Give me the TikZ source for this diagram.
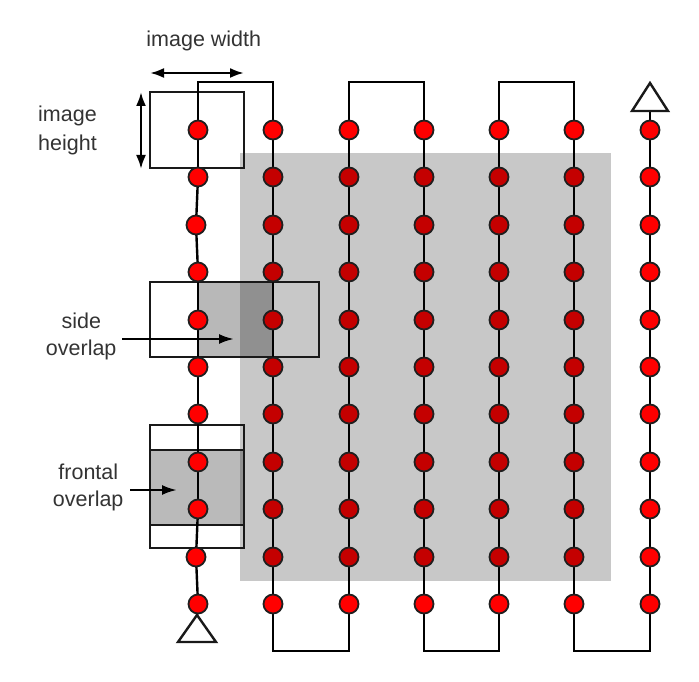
\documentclass[tikz,border=0pt]{standalone}
\usepackage{fontspec}
\setmainfont{Liberation Sans}
\usetikzlibrary{arrows.meta}
\pgfdeclarelayer{back}
\pgfdeclarelayer{mid}
\pgfsetlayers{back,mid,main}
\definecolor{areagrey}{HTML}{C8C8C8}
\definecolor{txt}{HTML}{333333}
\definecolor{dotred}{HTML}{FF0000}
\definecolor{dotdark}{HTML}{C40000}
\begin{document}
\begin{tikzpicture}[x=1pt,y=-1pt,
  dot/.style={circle,draw=black!88,line width=1.8pt,minimum size=19pt,inner sep=0pt},
  track/.style={line width=2.4pt,black},
  frame/.style={line width=2.4pt,draw=black!90},
  dimarrow/.style={line width=2.4pt,black,{Latex[length=14pt,width=10pt]}-{Latex[length=14pt,width=10pt]}},
  pointer/.style={line width=2.4pt,black,-{Latex[length=15pt,width=10pt]}},
  lbl/.style={font=\fontsize{21.5}{26}\selectfont,text=txt,inner sep=0pt,anchor=base}]
\useasboundingbox (0,0) rectangle (699,682);

% backgrounds and frames
\begin{pgfonlayer}{back}
  \fill[areagrey] (240,153) rectangle (611,581);
  \fill[black,fill opacity=0.28] (198,282) rectangle (273,357);
  \fill[black,fill opacity=0.27] (150,450) rectangle (244,525);
  \draw[frame] (150,92) rectangle (244,168);
  \draw[frame] (150,282) rectangle (319,357);
  \draw[frame] (150,425) rectangle (244,548);
  \draw[frame] (150,450) -- (244,450);
  \draw[frame] (150,525) -- (244,525);
\end{pgfonlayer}

% waypoints
\foreach \xx [count=\c] in {198,273,349,424,499,574,650}{
  \foreach \yy [count=\r] in {130,177,225,272,320,367,414,462,509,557,604}{
    \pgfmathsetmacro\xs{\xx-2*and(\c==1,or(\r==3,\r==10))}
    \pgfmathtruncatemacro\inside{and(and(\c>1,\c<7),and(\r>1,\r<11))}
    \ifnum\inside=1 \def\dotcol{dotdark}\else\def\dotcol{dotred}\fi
    \node[dot,fill=\dotcol] (d\c-\r) at (\xs,\yy) {};
  }
}

\coordinate (topline) at (0,82);
\coordinate (botline) at (0,651);
\coordinate (starttip) at (197,615);
\coordinate (endbase) at (650,111);

% flight path
\begin{pgfonlayer}{mid}
  \foreach \c in {1,...,7}{
    \foreach \r [evaluate=\r as \n using int(\r+1)] in {1,...,10}{
      \draw[track] (d\c-\r.center) -- (d\c-\n.center);
    }
  }
  \draw[track] (d1-1.center) -- (d1-1 |- topline) -- (d2-1 |- topline) -- (d2-1.center);
  \draw[track] (d3-1.center) -- (d3-1 |- topline) -- (d4-1 |- topline) -- (d4-1.center);
  \draw[track] (d5-1.center) -- (d5-1 |- topline) -- (d6-1 |- topline) -- (d6-1.center);
  \draw[track] (d2-11.center) -- (d2-11 |- botline) -- (d3-11 |- botline) -- (d3-11.center);
  \draw[track] (d4-11.center) -- (d4-11 |- botline) -- (d5-11 |- botline) -- (d5-11.center);
  \draw[track] (d6-11.center) -- (d6-11 |- botline) -- (d7-11 |- botline) -- (d7-11.center);
  \draw[track] (d7-1.center) -- (endbase);
  \draw[track] (d1-11.center) -- (starttip);
\end{pgfonlayer}

% start and end triangles
\draw[frame,line join=miter] (starttip) -- (216,642) -- (178,642) -- cycle;
\draw[frame,line join=miter] (650,83) -- (668,111) -- (632,111) -- cycle;

% dimension arrows
\coordinate (wl) at (150,73);
\coordinate (wr) at (244,73);
\coordinate (ht) at (141,92);
\coordinate (hb) at (141,169);
\draw[dimarrow] (wl) -- (wr);
\draw[dimarrow] (ht) -- (hb);

\coordinate (sidefrom) at (122,339);
\coordinate (sideto) at (234,339);
\coordinate (frontfrom) at (130,490);
\coordinate (frontto) at (177,490);
\draw[pointer] (sidefrom) -- (sideto);
\draw[pointer] (frontfrom) -- (frontto);

% labels
\node[lbl] (lw) at (203.8,46.7) {image width};
\node[lbl] (lh1) at (67.5,121.7) {image};
\node[lbl] (lh2) at (67.5,151) {height};
\node[lbl] (ls1) at (81.4,328.3) {side};
\node[lbl] (ls2) at (81.2,355) {overlap};
\node[lbl] (lf1) at (88.3,479) {frontal};
\node[lbl] (lf2) at (88.2,506.7) {overlap};
\end{tikzpicture}
\end{document}
